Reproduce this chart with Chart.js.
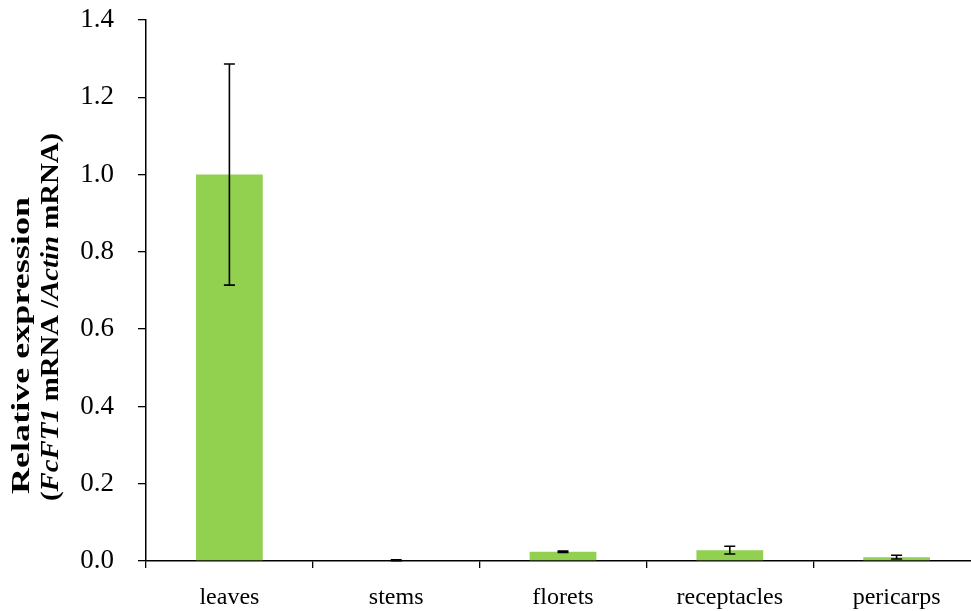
<!DOCTYPE html>
<html>
<head>
<meta charset="utf-8">
<script src="https://cdn.jsdelivr.net/npm/chart.js@4.4.1/dist/chart.umd.min.js"></script>
<style>
  html, body { margin: 0; padding: 0; background: #fff; overflow: hidden; }
  #wrap { position: relative; width: 981px; height: 611px; }
</style>
</head>
<body>
<div id="wrap"><canvas id="c"></canvas></div>
<script>
// Tissue-specific expression of FcFT1 relative to Actin
const tissues = ['leaves', 'stems', 'florets', 'receptacles', 'pericarps'];
const expression = [1.0, 0.002, 0.024, 0.028, 0.010];
const errors = [0.286, 0.001, 0.002, 0.010, 0.005];
const yTicks = [0, 0.2, 0.4, 0.6, 0.8, 1.0, 1.2, 1.4];

const SERIF = '"Liberation Serif", "Times New Roman", serif';

// Vertical error bars with caps
const errorBars = {
  id: 'errorBars',
  afterDatasetsDraw(chart) {
    const { ctx, scales: { y } } = chart;
    const meta = chart.getDatasetMeta(0);
    ctx.save();
    ctx.strokeStyle = '#000';
    ctx.lineWidth = 1.6;
    meta.data.forEach((bar, i) => {
      const x = bar.x;
      const top = y.getPixelForValue(expression[i] + errors[i]);
      const bot = y.getPixelForValue(expression[i] - errors[i]);
      ctx.beginPath();
      ctx.moveTo(x, top); ctx.lineTo(x, bot);
      ctx.moveTo(x - 5.5, top); ctx.lineTo(x + 5.5, top);
      ctx.moveTo(x - 5.5, bot); ctx.lineTo(x + 5.5, bot);
      ctx.stroke();
    });
    ctx.restore();
  }
};

// Two-line rotated axis title with italic gene names
const yTitle = {
  id: 'yTitle',
  afterDraw(chart) {
    const { ctx } = chart;
    const lines = [
      { x: 22, start: 494, length: 297, parts: [['Relative expression', false]] },
      { x: 51, start: 501, length: 368, parts: [['(', false], ['FcFT1', true], [' mRNA /', false], ['Actin', true], [' mRNA)', false]] }
    ];
    ctx.save();
    ctx.fillStyle = '#000';
    ctx.textBaseline = 'middle';
    ctx.textAlign = 'left';
    lines.forEach(line => {
      const fontFor = it => (it ? 'italic ' : '') + 'bold 26px ' + SERIF;
      let total = 0;
      line.parts.forEach(([t, it]) => { ctx.font = fontFor(it); total += ctx.measureText(t).width; });
      const sx = line.length / total;
      ctx.save();
      ctx.translate(line.x, line.start);
      ctx.rotate(-Math.PI / 2);
      ctx.scale(sx, 1);
      let pos = 0;
      line.parts.forEach(([t, it]) => {
        ctx.font = fontFor(it);
        ctx.fillText(t, pos, 0);
        pos += ctx.measureText(t).width;
      });
      ctx.restore();
    });
    ctx.restore();
  }
};

new Chart(document.getElementById('c'), {
  type: 'bar',
  data: {
    labels: tissues,
    datasets: [{
      data: expression,
      backgroundColor: '#92D050',
      borderWidth: 0,
      barPercentage: 0.4,
      categoryPercentage: 1.0
    }]
  },
  options: {
    responsive: true,
    maintainAspectRatio: false,
    animation: false,
    layout: { padding: { top: 20, right: 1, left: 0, bottom: 0 } },
    plugins: { legend: { display: false }, tooltip: { enabled: false } },
    scales: {
      x: {
        afterFit(s) { s.height = 50; s.paddingLeft = 0; s.paddingRight = 0; },
        grid: { display: true, drawOnChartArea: false, offset: true, tickLength: 7, color: '#000', lineWidth: 1.3 },
        border: { display: true, color: '#000', width: 1.5 },
        ticks: { color: '#000', font: { family: SERIF, size: 24 }, padding: 15, maxRotation: 0 }
      },
      y: {
        min: 0,
        max: 1.4,
        afterFit(s) { s.width = 146; s.paddingTop = 0; s.paddingBottom = 0; },
        afterBuildTicks(s) { s.ticks = yTicks.map(v => ({ value: v })); },
        grid: { display: true, drawOnChartArea: false, tickLength: 8, color: '#000', lineWidth: 1.3 },
        border: { display: true, color: '#000', width: 1.5 },
        ticks: {
          color: '#000',
          font: { family: SERIF, size: 27 },
          padding: 24,
          callback: v => v.toFixed(1)
        }
      }
    }
  },
  plugins: [errorBars, yTitle]
});
</script>
</body>
</html>
